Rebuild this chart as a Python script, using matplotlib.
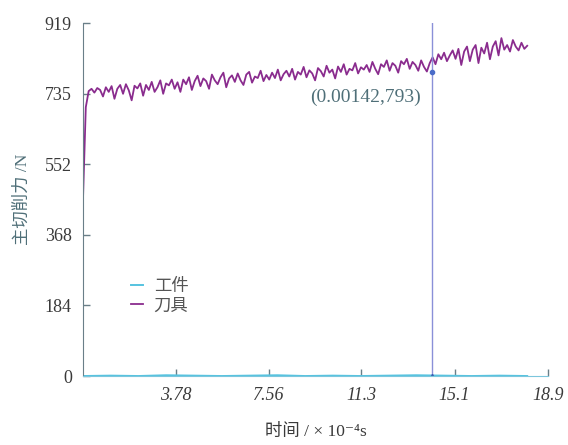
import numpy as np
import matplotlib
matplotlib.use('Agg')
import matplotlib.pyplot as plt

# time in units of 1e-4 s
t_end = 18.05
x_ticks = [3.78, 7.56, 11.3, 15.1, 18.9]
y_ticks = [0, 184, 368, 552, 735, 919]

# main cutting force on the tool (N)
tool_force = [
    455, 700, 742, 748, 738, 750, 745, 728, 752, 740, 755, 722, 748, 758, 735, 760,
    744, 718, 756, 749, 762, 730, 758, 745, 766, 740, 752, 770, 735, 762, 757, 772, 748,
    765, 740, 772, 760, 778, 745, 768, 782, 755, 775, 768, 748, 785, 770, 760, 778,
    790, 752, 775, 783, 766, 788, 770, 758, 785, 792, 764, 780, 776, 795, 768, 784, 772,
    790, 776, 798, 770, 786, 795, 780, 800, 772, 792, 785, 805, 778, 796, 788, 770,
    802, 794, 780, 808, 790, 798, 775, 806, 792, 812, 785, 800, 796, 815, 788, 804, 798,
    810, 792, 818, 800, 786, 812, 805, 822, 795, 815, 808, 790, 820, 812, 826, 800,
    818, 810, 795, 822, 805, 793, 815, 830, 812, 838, 825, 842, 820,
    835, 848, 826, 852, 810, 845, 858, 820, 850, 862, 815, 855, 840, 868, 825, 858,
    872, 835, 880, 850, 862, 845, 875, 858, 848, 868, 852, 860,
]
# main cutting force on the workpiece (N)
work_force = [0, 1, 0, 2, 1, 0, 1, 2, 0, 1, 0, 1, 2, 1, 0, 1, 0]

marker_t = 14.2
marker_f = 793

t_tool = np.linspace(0, t_end, len(tool_force))
t_work = np.linspace(0, t_end, len(work_force))

cjk = ['Liberation Serif', 'Noto Sans CJK SC', 'DejaVu Sans']
txt_color = '#3a3a3a'
lab_color = '#4f6f78'

fig = plt.figure(figsize=(5.68, 4.45), dpi=100)
ax = fig.add_axes([0.146, 0.155, 0.819, 0.793])

ax.plot(t_work, work_force, color='#56c3e0', lw=1.4, label='工件')
ax.plot(t_tool, tool_force, color='#8a2c8e', lw=1.3, label='刀具')

# cursor line
ax.plot([marker_t, marker_t], [0, 919], color='#8a90d8', lw=1.0)
ax.plot([marker_t], [marker_f], 'o', color='#4a6cc8', ms=3)
ax.plot([marker_t], [0], '^', color='#3a5ab0', ms=3)
ax.text(11.5, 726, '(0.00142,793)', family=cjk, fontsize=14,
        color=lab_color, ha='center', va='center')

ax.set_xlim(0, 18.9)
ax.set_ylim(0, 919)
ax.set_xticks(x_ticks)
ax.set_xticklabels([str(v) for v in x_ticks], family=cjk, style='italic',
                   fontsize=13)
ax.set_yticks(y_ticks)
ax.set_yticklabels([str(v) for v in y_ticks], family=cjk, fontsize=13)
ax.tick_params(direction='in', length=5, width=1, colors='#6a7f88', pad=8)
for lbl in ax.get_xticklabels() + ax.get_yticklabels():
    lbl.set_color(txt_color)

for s in ['top', 'right']:
    ax.spines[s].set_visible(False)
ax.spines['left'].set_color('#6a7f88')
ax.spines['bottom'].set_color('#7cc6dc')

ax.set_xlabel('时间 / × 10⁻⁴s', family=cjk, fontsize=12.5, color=txt_color,
              labelpad=14)
ax.set_ylabel('主切削力 /N', family=cjk, fontsize=12.5, color=lab_color,
              labelpad=10)

leg = ax.legend(loc='upper left', bbox_to_anchor=(0.07, 0.32), frameon=False,
                handlelength=0.7, handletextpad=0.6, labelspacing=0.2,
                prop={'family': cjk, 'size': 12.5})
for t in leg.get_texts():
    t.set_color('#555555')

fig.savefig('out.png', dpi=100)
